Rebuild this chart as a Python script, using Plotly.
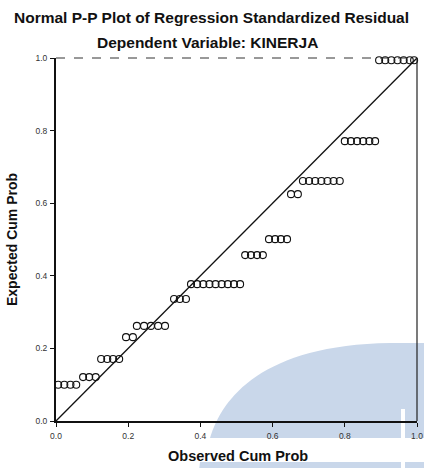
import plotly.graph_objects as go

# ---- data ----
observed_cum_prob = [
    0.006, 0.023, 0.040, 0.056,
    0.075, 0.092, 0.110,
    0.125, 0.142, 0.158, 0.175,
    0.194, 0.213,
    0.224, 0.244, 0.263, 0.283, 0.302,
    0.327, 0.343, 0.360,
    0.374, 0.391, 0.408, 0.425, 0.442, 0.459, 0.476, 0.493, 0.510,
    0.524, 0.540, 0.557, 0.573,
    0.590, 0.607, 0.623, 0.640,
    0.651, 0.670,
    0.684, 0.701, 0.718, 0.735, 0.752, 0.769, 0.786,
    0.800, 0.817, 0.834, 0.851, 0.868, 0.884,
    0.895, 0.912, 0.929, 0.946, 0.963, 0.980, 0.992,
]
expected_cum_prob = (
    [0.100] * 4 + [0.121] * 3 + [0.171] * 4 + [0.231] * 2 + [0.262] * 5 +
    [0.336] * 3 + [0.377] * 9 + [0.457] * 4 + [0.501] * 4 + [0.625] * 2 +
    [0.661] * 7 + [0.771] * 6 + [0.994] * 7
)
ref_line_x = [0.0, 1.0]
ref_line_y = [0.0, 1.0]
tick_vals = [0.0, 0.2, 0.4, 0.6, 0.8, 1.0]
tick_text = ["0.0", "0.2", "0.4", "0.6", "0.8", "1.0"]

title_text = "Normal P-P Plot of Regression Standardized Residual"
subtitle_text = "Dependent Variable: KINERJA"
x_title = "Observed Cum Prob"
y_title = "Expected Cum Prob"

# ---- layout geometry ----
W, H = 424, 468
ML, MR, MT, MB = 56, 7, 58, 47
PW, PH = W - ML - MR, H - MT - MB


def px(x):
    return (x - ML) / PW


def py(y):
    return (H - MB - y) / PH


FONT = "Liberation Sans, Arial, sans-serif"
WM = "#c9d7ea"

fig = go.Figure()
fig.add_trace(go.Scatter(
    x=ref_line_x, y=ref_line_y, mode="lines",
    line=dict(color="#111111", width=1.3), hoverinfo="skip", showlegend=False,
))
fig.add_trace(go.Scatter(
    x=observed_cum_prob, y=expected_cum_prob, mode="markers",
    marker=dict(symbol="circle-open", size=7, color="#111111", line=dict(width=1.1)),
    cliponaxis=False, showlegend=False,
))

shapes = [
    # watermark arc (bottom right), upper part
    dict(type="path", xref="paper", yref="paper", layer="below",
         path=(f"M {px(210)},{py(438)} C {px(222)},{py(398)} {px(262)},{py(345)} {px(390)},{py(343)} "
               f"L {px(440)},{py(343)} L {px(440)},{py(438)} Z"),
         fillcolor=WM, line=dict(width=0)),
    # watermark lower strip below the x-axis title
    dict(type="path", xref="paper", yref="paper", layer="below",
         path=(f"M {px(200)},{py(462)} L {px(440)},{py(462)} L {px(440)},{py(480)} "
               f"L {px(198)},{py(480)} Z"),
         fillcolor=WM, line=dict(width=0)),
    # thin white stripe
    dict(type="path", xref="paper", yref="paper", layer="below",
         path=(f"M {px(401)},{py(409)} L {px(405)},{py(409)} L {px(405)},{py(480)} "
               f"L {px(401)},{py(480)} Z"),
         fillcolor="white", line=dict(width=0)),
    # top border (dashed) and right border
    dict(type="line", xref="paper", yref="paper",
         x0=0, x1=1, y0=1, y1=1, line=dict(color="#333333", width=1, dash="dash")),
    dict(type="line", xref="paper", yref="paper",
         x0=1, x1=1, y0=0, y1=1, line=dict(color="#222222", width=1.2)),
]

annotations = [
    dict(text=f"<b>{title_text}</b>", xref="paper", yref="paper", x=px(211), y=py(17),
         showarrow=False, font=dict(family=FONT, size=15.5, color="#111111"),
         xanchor="center", yanchor="middle"),
    dict(text=f"<b>{subtitle_text}</b>", xref="paper", yref="paper", x=px(207), y=py(42),
         showarrow=False, font=dict(family=FONT, size=15.5, color="#111111"),
         xanchor="center", yanchor="middle"),
    dict(text=f"<b>{x_title}</b>", xref="paper", yref="paper", x=px(238), y=py(456),
         showarrow=False, font=dict(family=FONT, size=14.5, color="#111111"),
         xanchor="center", yanchor="middle"),
    dict(text=f"<b>{y_title}</b>", xref="paper", yref="paper", x=px(12), y=py(240),
         showarrow=False, textangle=-90, font=dict(family=FONT, size=14, color="#111111"),
         xanchor="center", yanchor="middle"),
]

fig.update_layout(
    width=W, height=H,
    margin=dict(l=ML, r=MR, t=MT, b=MB, pad=0, autoexpand=False),
    paper_bgcolor="white", plot_bgcolor="rgba(0,0,0,0)",
    shapes=shapes, annotations=annotations, showlegend=False,
    font=dict(family=FONT, color="#222222"),
)
fig.update_xaxes(
    range=[0, 1], tickvals=tick_vals, ticktext=tick_text, automargin=False,
    showgrid=False, zeroline=False, showline=True, linecolor="#111111", linewidth=1.6,
    ticks="outside", ticklen=4, tickwidth=1.2, tickcolor="#111111",
    tickfont=dict(size=8.5, color="#333333"), ticklabelstandoff=2,
)
fig.update_yaxes(
    range=[0, 1], tickvals=tick_vals, ticktext=tick_text, automargin=False,
    showgrid=False, zeroline=False, showline=True, linecolor="#111111", linewidth=2,
    ticks="outside", ticklen=4, tickwidth=1.2, tickcolor="#111111",
    tickfont=dict(size=8.5, color="#333333"), ticklabelstandoff=1,
)

fig.write_html(
    "out.html",
    config={"displayModeBar": False},
    post_script="document.body.style.margin='0px';document.body.style.overflow='hidden';",
)
